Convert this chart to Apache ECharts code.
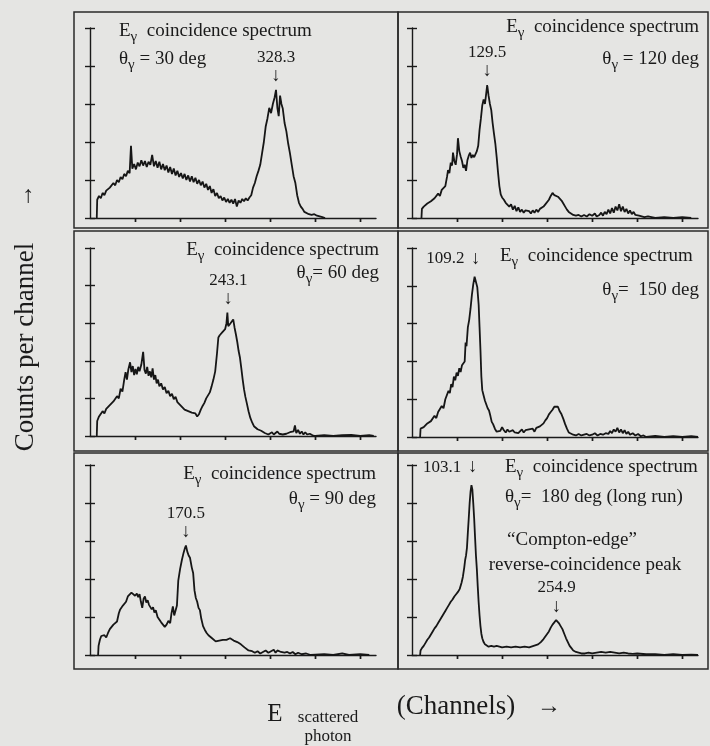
<!DOCTYPE html>
<html><head><meta charset="utf-8">
<script src="https://cdn.jsdelivr.net/npm/echarts@6/dist/echarts.min.js"></script>
<style>html,body{margin:0;padding:0;background:#e5e5e3}#c{width:710px;height:746px}</style>
</head><body><div id="c"></div>
<script>
// ---------- data (channel, counts) ----------
const xTickValues = [100, 200, 300, 400, 500, 600];
const xMax = 635;
const yMax = 500;
const yInterval = 100;

const spec30 = [[15,0],[16,48],[20,58],[24,52],[28,66],[32,60],[36,72],[40,68],[44,80],[48,76],[52,92],[56,86],[60,100],[64,94],[68,108],[72,102],[76,116],[80,110],[84,124],[88,118],[91,190],[94,130],[98,142],[102,128],[106,146],[110,136],[114,152],[118,138],[122,150],[126,134],[130,148],[134,140],[138,166],[142,136],[146,150],[150,132],[154,148],[158,128],[162,142],[166,126],[170,138],[174,120],[178,134],[182,116],[186,130],[190,112],[194,124],[198,108],[202,118],[206,104],[210,116],[214,100],[218,112],[222,96],[226,110],[230,94],[234,106],[238,90],[242,100],[246,86],[250,96],[254,80],[258,90],[262,74],[266,84],[270,66],[274,76],[278,58],[282,66],[286,52],[290,58],[294,46],[298,54],[302,42],[306,50],[310,40],[314,48],[318,38],[322,50],[326,30],[330,46],[334,40],[338,50],[342,44],[346,52],[350,46],[354,54],[358,60],[362,80],[366,92],[370,110],[374,124],[378,140],[382,170],[386,200],[390,240],[394,262],[398,290],[402,276],[406,300],[410,318],[413,337],[416,290],[419,268],[422,322],[425,300],[428,288],[432,250],[436,228],[440,196],[444,170],[448,140],[452,110],[456,92],[460,60],[464,40],[468,30],[472,24],[476,16],[480,14],[486,10],[492,8],[498,10],[504,6],[510,4],[516,2],[522,0]];

const spec120 = [[21,0],[22,24],[26,30],[30,26],[34,38],[38,34],[42,44],[46,40],[50,52],[54,48],[58,64],[62,58],[66,74],[70,70],[74,84],[78,110],[80,126],[83,118],[86,146],[89,138],[91,172],[94,150],[97,140],[100,168],[102,210],[105,176],[108,162],[111,150],[114,132],[117,140],[120,124],[123,152],[126,164],[129,172],[132,158],[135,166],[138,160],[141,168],[144,176],[147,190],[150,232],[153,262],[156,296],[159,312],[162,300],[165,330],[167,350],[170,322],[173,300],[176,284],[179,250],[182,222],[185,196],[188,160],[191,120],[194,84],[197,62],[200,54],[204,48],[208,40],[212,44],[216,30],[220,36],[224,22],[228,32],[232,18],[236,28],[240,16],[244,22],[248,14],[252,20],[256,16],[260,18],[264,12],[268,20],[272,14],[276,22],[280,16],[284,24],[288,20],[292,30],[296,36],[300,40],[304,48],[308,58],[312,66],[316,60],[320,64],[324,56],[328,58],[332,46],[336,38],[340,30],[344,22],[348,16],[352,12],[358,8],[364,6],[370,8],[376,4],[382,8],[388,4],[394,10],[400,6],[406,12],[410,4],[416,8],[420,14],[424,6],[428,16],[432,10],[436,22],[440,12],[444,26],[448,14],[452,30],[456,20],[460,36],[464,18],[468,30],[472,16],[476,24],[480,12],[484,20],[488,10],[492,16],[496,8],[500,12],[504,6],[510,4],[516,2],[524,4],[532,2],[540,0],[560,2],[580,0],[600,2],[620,0]];

const spec60 = [[15,0],[16,40],[20,52],[24,48],[28,66],[32,60],[36,72],[40,68],[44,82],[48,78],[52,92],[56,88],[60,106],[64,100],[68,126],[72,118],[76,150],[79,170],[82,150],[85,176],[89,196],[92,170],[95,186],[98,162],[101,178],[104,164],[107,184],[110,172],[114,190],[118,224],[121,176],[124,166],[127,184],[130,160],[133,172],[136,156],[139,180],[142,150],[145,162],[148,140],[151,150],[154,132],[158,140],[162,124],[166,130],[170,114],[174,120],[178,106],[182,112],[186,98],[190,104],[194,90],[198,92],[202,80],[206,82],[210,70],[214,72],[218,66],[222,70],[226,62],[230,66],[234,60],[238,52],[242,58],[246,70],[250,80],[254,88],[258,100],[262,104],[266,116],[270,132],[274,150],[278,172],[282,220],[285,262],[288,268],[291,266],[294,276],[297,272],[300,284],[303,300],[305,328],[307,292],[309,288],[312,300],[315,296],[318,310],[321,288],[324,270],[327,250],[330,226],[333,208],[336,180],[339,150],[342,124],[345,104],[348,88],[352,66],[356,48],[360,36],[364,26],[368,22],[372,18],[376,16],[380,14],[384,12],[388,8],[392,6],[396,4],[400,6],[404,10],[408,4],[412,8],[416,12],[420,6],[424,10],[428,4],[432,8],[436,6],[440,4],[444,10],[448,6],[452,12],[455,28],[458,8],[462,16],[466,6],[470,12],[474,4],[478,10],[482,4],[488,6],[494,2],[500,0],[520,2],[540,0],[560,2],[580,3],[600,0],[620,2],[630,0]];

const spec150 = [[18,0],[19,22],[22,18],[26,26],[30,24],[34,36],[38,32],[42,42],[46,38],[50,56],[54,50],[58,66],[62,62],[66,82],[70,76],[74,100],[78,96],[81,122],[84,116],[87,140],[90,132],[93,160],[96,150],[99,170],[102,162],[105,182],[108,172],[111,190],[114,186],[117,200],[119,250],[121,240],[124,290],[127,310],[130,340],[133,376],[136,404],[139,424],[142,420],[145,396],[148,350],[150,290],[152,230],[154,160],[156,124],[159,110],[162,96],[165,100],[168,76],[171,70],[174,56],[177,40],[180,34],[184,22],[188,14],[192,10],[196,16],[200,26],[204,18],[208,12],[212,20],[216,14],[220,10],[224,18],[228,12],[232,16],[236,10],[240,14],[244,20],[248,12],[252,18],[256,14],[260,20],[264,16],[268,22],[272,14],[276,24],[280,20],[284,28],[288,30],[292,36],[296,44],[300,50],[304,60],[308,66],[312,72],[316,80],[320,76],[324,80],[328,68],[332,60],[336,48],[340,34],[344,22],[348,12],[352,8],[358,6],[364,4],[370,8],[376,4],[382,6],[388,8],[394,4],[400,6],[406,10],[412,4],[418,8],[424,6],[430,10],[436,8],[440,16],[444,10],[448,20],[452,14],[456,24],[460,12],[464,20],[468,10],[472,18],[476,8],[480,14],[484,6],[490,10],[496,4],[502,8],[508,2],[514,4],[520,0],[540,3],[560,0],[580,2],[600,0],[620,2],[635,0]];

const spec90 = [[18,0],[19,24],[22,40],[25,50],[28,46],[32,52],[36,46],[40,58],[44,68],[48,74],[52,80],[56,78],[60,88],[64,110],[67,120],[70,116],[73,130],[76,126],[80,140],[84,154],[88,150],[92,164],[96,168],[100,156],[104,162],[107,152],[110,160],[113,140],[116,124],[119,148],[122,154],[125,138],[128,144],[131,132],[134,136],[137,120],[140,126],[143,112],[146,118],[150,100],[154,96],[158,86],[162,80],[166,74],[170,80],[174,90],[178,84],[181,110],[184,128],[187,104],[190,100],[193,130],[196,196],[200,226],[204,250],[208,270],[211,282],[213,288],[216,272],[219,262],[222,256],[226,230],[229,216],[232,170],[235,150],[238,140],[241,124],[244,118],[247,96],[251,76],[255,66],[259,58],[263,52],[267,48],[271,44],[275,40],[279,36],[283,34],[287,38],[291,36],[295,40],[299,36],[303,40],[307,38],[311,44],[315,42],[319,38],[323,40],[327,34],[331,30],[335,28],[339,24],[343,20],[347,16],[352,12],[356,8],[360,10],[366,6],[372,10],[378,4],[384,8],[390,12],[396,6],[402,10],[408,14],[412,6],[416,12],[420,16],[424,8],[428,12],[432,6],[438,8],[444,4],[450,8],[456,2],[462,6],[470,2],[480,4],[490,0],[520,2],[540,0],[560,4],[575,0],[600,2],[620,0]];

const spec180 = [[18,0],[19,12],[22,18],[26,24],[30,32],[34,40],[38,46],[42,54],[46,62],[50,70],[54,76],[58,84],[62,92],[66,100],[70,108],[74,116],[78,124],[82,132],[86,140],[90,146],[94,154],[98,160],[102,166],[106,174],[110,190],[113,206],[116,230],[118,250],[120,262],[122,282],[124,322],[126,360],[128,400],[130,430],[132,447],[134,436],[136,400],[138,360],[140,310],[142,262],[144,226],[146,180],[148,138],[150,104],[152,76],[154,56],[156,44],[159,34],[162,28],[166,24],[170,22],[176,24],[182,22],[188,24],[194,22],[200,20],[210,22],[220,20],[230,22],[240,20],[250,22],[260,20],[270,24],[280,28],[286,34],[292,42],[298,52],[304,62],[308,72],[312,80],[316,86],[320,92],[323,90],[326,84],[330,76],[334,68],[338,56],[342,44],[346,34],[350,24],[354,18],[358,12],[364,8],[370,6],[376,4],[384,4],[392,6],[400,4],[410,6],[420,8],[430,6],[440,8],[450,6],[460,4],[470,6],[480,4],[490,3],[500,4],[520,2],[540,2],[560,0],[580,2],[600,0],[620,1],[635,0]];

// peak annotations: channel and label text
const peakCh30 = [413],  peakLbl30 = ['328.3'];
const peakCh120 = [167], peakLbl120 = ['129.5'];
const peakCh60 = [307],  peakLbl60 = ['243.1'];
const peakCh150 = [139], peakLbl150 = ['109.2'];
const peakCh90 = [213],  peakLbl90 = ['170.5'];
const peakCh180 = [132, 321], peakLbl180 = ['103.1', '254.9'];

// ---------- layout / style ----------
const FONT = '"Liberation Serif","Times New Roman",serif';
const INK = '#1a1a1a';
const panels = [
  {data: spec30,  pk: peakCh30,  pl: peakLbl30,  side: [false],        grid: {left: 90,  top: 28,  width: 286, height: 190}},
  {data: spec120, pk: peakCh120, pl: peakLbl120, side: [false],        grid: {left: 412, top: 28,  width: 286, height: 190}},
  {data: spec60,  pk: peakCh60,  pl: peakLbl60,  side: [false],        grid: {left: 90,  top: 248, width: 286, height: 188}},
  {data: spec150, pk: peakCh150, pl: peakLbl150, side: [true],         grid: {left: 412, top: 248, width: 286, height: 189}},
  {data: spec90,  pk: peakCh90,  pl: peakLbl90,  side: [false],        grid: {left: 90,  top: 465, width: 286, height: 190}},
  {data: spec180, pk: peakCh180, pl: peakLbl180, side: [true, false],  grid: {left: 412, top: 465, width: 286, height: 190}}
];

function peakY(data, ch) {
  let m = 0;
  data.forEach(p => { if (Math.abs(p[0] - ch) <= 4 && p[1] > m) m = p[1]; });
  return m;
}

const grids = [], xAxes = [], yAxes = [], series = [];
const axLine = {show: true, lineStyle: {color: INK, width: 1.4}};
panels.forEach((p, i) => {
  grids.push(Object.assign({containLabel: false}, p.grid));
  const xa = {gridIndex: i, type: 'value', min: 0, max: xMax, axisLabel: {show: false}, splitLine: {show: false}};
  xAxes.push(Object.assign({}, xa, {axisLine: axLine, axisTick: {show: true, customValues: xTickValues, length: 4, lineStyle: {color: INK, width: 1.4}}}));
  xAxes.push(Object.assign({}, xa, {axisLine: {show: false}, axisTick: {show: true, inside: true, customValues: xTickValues, length: 4, lineStyle: {color: INK, width: 1.4}}}));
  const ya = {gridIndex: i, type: 'value', min: 0, max: yMax, interval: yInterval, position: 'left', axisLabel: {show: false}, splitLine: {show: false}};
  yAxes.push(Object.assign({}, ya, {axisLine: axLine, axisTick: {show: true, length: 5, lineStyle: {color: INK, width: 1.4}}}));
  yAxes.push(Object.assign({}, ya, {axisLine: {show: false}, axisTick: {show: true, inside: true, length: 5, lineStyle: {color: INK, width: 1.4}}}));
  const mp = p.pk.map((ch, k) => {
    const side = p.side[k];
    return {
      coord: [ch, peakY(p.data, ch)],
      label: side ? {
        show: true, position: 'top', distance: 8, align: 'right', offset: [6, 0],
        formatter: '{n|' + p.pl[k] + '}  {a|↓}',
        rich: {n: {fontFamily: FONT, fontSize: 17, color: INK}, a: {fontFamily: FONT, fontSize: 19, color: INK}}
      } : {
        show: true, position: 'top', distance: 4,
        formatter: '{n|' + p.pl[k] + '}\n{a|↓}',
        rich: {n: {fontFamily: FONT, fontSize: 17, lineHeight: 20, color: INK}, a: {fontFamily: FONT, fontSize: 19, lineHeight: 18, color: INK}}
      }
    };
  });
  series.push({
    type: 'line', xAxisIndex: 2 * i, yAxisIndex: 2 * i, data: p.data,
    showSymbol: false, symbol: 'none', animation: false,
    lineStyle: {color: '#161616', width: 1.8},
    markPoint: {symbol: 'circle', symbolSize: 1, itemStyle: {color: 'rgba(0,0,0,0)'}, silent: true, animation: false, data: mp}
  });
});

// text helpers
const richTxt = {
  t: {fontFamily: FONT, fontSize: 19, color: INK, verticalAlign: 'top', lineHeight: 22},
  g: {fontFamily: FONT, fontSize: 15, color: INK, verticalAlign: 'top', lineHeight: 16, padding: [8, 0, 0, 0]}
};
function txt(x, y, s, align) {
  return {type: 'text', x: x, y: y, silent: true, style: {text: s, rich: richTxt, align: align || 'left', verticalAlign: 'top', fill: INK}};
}
function plain(x, y, s, size, align, rot) {
  return {type: 'text', x: x, y: y, rotation: rot || 0, silent: true, style: {text: s, font: size + 'px ' + FONT, fill: INK, align: align || 'center', verticalAlign: 'middle'}};
}
const EG = '{t|E}{g|γ}{t|  coincidence spectrum}';
function TH(s) { return '{t|θ}{g|γ}{t|' + s + '}'; }

const box = (x, y, w, h) => ({type: 'rect', silent: true, shape: {x: x, y: y, width: w, height: h}, style: {fill: 'none', stroke: '#2a2a2a', lineWidth: 1.5}});

const graphics = [
  box(74, 12, 324, 216), box(398, 12, 310, 216),
  box(74, 231, 324, 220), box(398, 231, 310, 220),
  box(74, 453, 324, 216), box(398, 453, 310, 216),
  txt(119, 22, EG), txt(119, 50, TH(' = 30 deg')),
  txt(699, 18, EG, 'right'), txt(699, 50, TH(' = 120 deg'), 'right'),
  txt(379, 241, EG, 'right'), txt(379, 264, TH('= 60 deg'), 'right'),
  txt(500, 247, EG), txt(699, 281, TH('=  150 deg'), 'right'),
  txt(376, 465, EG, 'right'), txt(376, 490, TH(' = 90 deg'), 'right'),
  txt(505, 458, EG), txt(505, 488, TH('=  180 deg (long run)')),
  plain(572, 540, '“Compton-edge”', 19),
  plain(585, 565, 'reverse-coincidence peak', 19),
  plain(26, 347, 'Counts per channel', 27, 'center', Math.PI / 2),
  plain(26, 196, '→', 24, 'center', Math.PI / 2),
  plain(275, 714, 'E', 25),
  plain(328, 718, 'scattered', 17),
  plain(328, 737, 'photon', 17),
  plain(456, 707, '(Channels)', 27),
  plain(549, 707, '→', 24)
];

const chart = echarts.init(document.getElementById('c'), null, {renderer: 'canvas'});
chart.setOption({
  backgroundColor: '#e5e5e3',
  animation: false,
  grid: grids, xAxis: xAxes, yAxis: yAxes, series: series,
  graphic: graphics
});
</script></body></html>
